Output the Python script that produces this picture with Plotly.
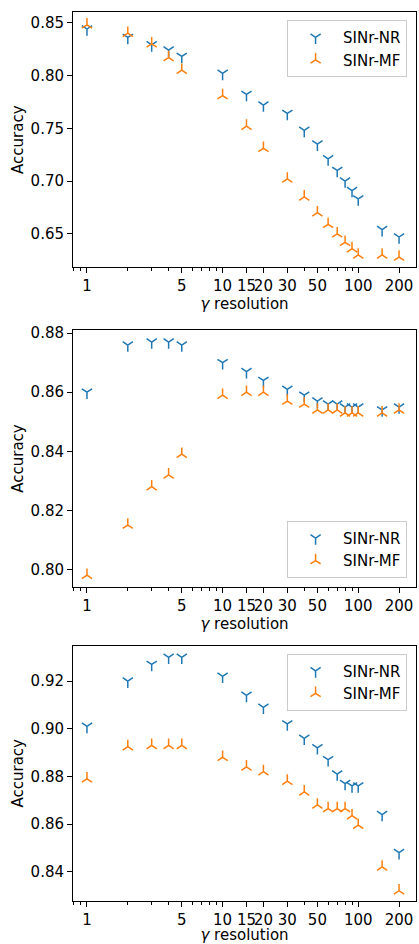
import plotly.graph_objects as go
from plotly.subplots import make_subplots

gamma = [1, 2, 3, 4, 5, 10, 15, 20, 30, 40, 50, 60, 70, 80, 90, 100, 150, 200]

nr_1 = [0.844, 0.836, 0.829, 0.824, 0.818, 0.802, 0.782, 0.772, 0.764, 0.748, 0.735, 0.721, 0.710, 0.700, 0.691, 0.683, 0.654, 0.647]
mf_1 = [0.848, 0.840, 0.830, 0.817, 0.805, 0.781, 0.752, 0.731, 0.702, 0.685, 0.670, 0.659, 0.650, 0.642, 0.636, 0.630, 0.630, 0.628]

nr_2 = [0.860, 0.876, 0.877, 0.877, 0.876, 0.870, 0.867, 0.864, 0.861, 0.859, 0.857, 0.856, 0.856, 0.855, 0.855, 0.855, 0.854, 0.855]
mf_2 = [0.798, 0.815, 0.828, 0.832, 0.839, 0.859, 0.860, 0.860, 0.857, 0.856, 0.854, 0.854, 0.854, 0.853, 0.853, 0.853, 0.853, 0.854]

nr_3 = [0.901, 0.920, 0.927, 0.930, 0.930, 0.922, 0.914, 0.909, 0.902, 0.896, 0.892, 0.887, 0.881, 0.877, 0.876, 0.876, 0.864, 0.848]
mf_3 = [0.879, 0.8925, 0.893, 0.893, 0.893, 0.888, 0.884, 0.882, 0.878, 0.8735, 0.868, 0.8665, 0.8665, 0.8665, 0.8635, 0.8595, 0.842, 0.832]

x_tickvals = [1, 5, 10, 15, 20, 30, 50, 100, 200]
x_ticktext = ["1", "5", "10", "15", "20", "30", "50", "100", "200"]
x_minor = [0.8, 0.9, 2, 3, 4, 6, 7, 8, 9, 20, 30, 40, 60, 70, 80, 90, 200]

y_ticks_1 = [0.65, 0.70, 0.75, 0.80, 0.85]
y_ticks_2 = [0.80, 0.82, 0.84, 0.86, 0.88]
y_ticks_3 = [0.84, 0.86, 0.88, 0.90, 0.92]
y_ranges = [[0.6182, 0.8601], [0.7941, 0.8810], [0.8277, 0.9349]]

series_names = ["SINr-NR", "SINr-MF"]
blue = "#1f77b4"
orange = "#ff7f0e"
FONT = "DejaVu Sans"
FS = 15

fig = make_subplots(rows=3, cols=1)

panels = [(nr_1, mf_1, "legend"), (nr_2, mf_2, "legend2"), (nr_3, mf_3, "legend3")]
for i, (nr, mf, lg) in enumerate(panels):
    fig.add_trace(go.Scatter(
        x=gamma, y=nr, mode="markers", name=series_names[0], legend=lg,
        legendgroup=f"nr{i}",
        marker=dict(symbol="y-down", size=8.5, color=blue,
                    line=dict(color=blue, width=1.5))), row=i + 1, col=1)
    fig.add_trace(go.Scatter(
        x=gamma, y=mf, mode="markers", name=series_names[1], legend=lg,
        legendgroup=f"mf{i}",
        marker=dict(symbol="y-up", size=8.5, color=orange,
                    line=dict(color=orange, width=1.5))), row=i + 1, col=1)

domains = [[0.7127, 1.0], [0.3535, 0.642], [0.0, 0.2873]]
yticks = [y_ticks_1, y_ticks_2, y_ticks_3]
for i in range(3):
    xa = "xaxis" if i == 0 else f"xaxis{i+1}"
    ya = "yaxis" if i == 0 else f"yaxis{i+1}"
    fig.layout[xa].update(
        type="log", range=[-0.103, 2.426], domain=[0, 1],
        tickmode="array", tickvals=x_tickvals, ticktext=x_ticktext,
        tickangle=0,
        ticks="outside", ticklen=5, tickwidth=1, tickcolor="black",
        minor=dict(tickmode="array", tickvals=x_minor, ticks="outside",
                   ticklen=3, tickwidth=0.8, tickcolor="black", showgrid=False),
        showgrid=False, zeroline=False, showline=True, mirror=True,
        linecolor="black", linewidth=1,
        tickfont=dict(family=FONT, size=FS, color="black"),
        title=dict(text="<i>γ</i> resolution", standoff=2,
                   font=dict(family=FONT, size=FS, color="black")),
    )
    fig.layout[ya].update(
        domain=domains[i], range=y_ranges[i],
        tickmode="array", tickvals=yticks[i], tickformat=".2f",
        ticks="outside", ticklen=5, tickwidth=1, tickcolor="black",
        showgrid=False, zeroline=False, showline=True, mirror=True,
        linecolor="black", linewidth=1,
        tickfont=dict(family=FONT, size=FS, color="black"),
        title=dict(text="Accuracy", standoff=3,
                   font=dict(family=FONT, size=FS, color="black")),
    )

leg_common = dict(font=dict(family=FONT, size=FS, color="black"),
                  bgcolor="rgba(255,255,255,0.8)", bordercolor="#cccccc",
                  borderwidth=1, xanchor="right", x=0.974,
                  itemwidth=45, tracegroupgap=0)
fig.update_layout(
    width=419, height=944,
    margin=dict(l=73, r=2, t=12, b=41),
    paper_bgcolor="white", plot_bgcolor="white",
    font=dict(family=FONT, size=FS, color="black"),
    legend=dict(**leg_common, yanchor="top", y=0.991),
    legend2=dict(**leg_common, yanchor="bottom", y=0.3636),
    legend3=dict(**leg_common, yanchor="top", y=0.2783),
)

fig.write_html("out.html", config={"displayModeBar": False},
               post_script="document.body.style.margin='0';document.body.style.overflow='hidden';")
